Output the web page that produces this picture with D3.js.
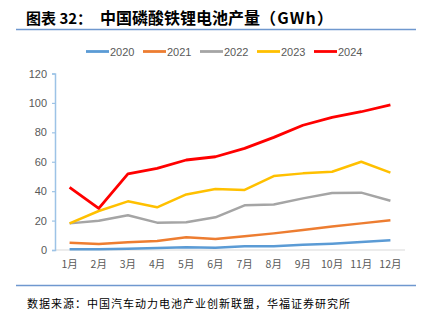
<!DOCTYPE html>
<html>
<head>
<meta charset="utf-8">
<script src="https://cdn.jsdelivr.net/npm/d3@7"></script>
<style>
  html, body { margin: 0; padding: 0; background: #fff; }
  svg { display: block; }
</style>
</head>
<body>
<svg width="422" height="323"></svg>
<script>
// monthly output, GWh
const months = ["1月", "2月", "3月", "4月", "5月", "6月", "7月", "8月", "9月", "10月", "11月", "12月"];
const years = ["2020", "2021", "2022", "2023", "2024"];
const v2020 = [0.5, 0.5, 0.9, 1.4, 1.8, 1.6, 2.5, 2.5, 3.6, 4.3, 5.4, 6.6];
const v2021 = [5.0, 4.1, 5.2, 6.1, 8.6, 7.5, 9.3, 11.3, 13.6, 15.9, 18.1, 20.2];
const v2022 = [18.1, 19.9, 23.6, 18.6, 18.8, 22.2, 30.4, 31.0, 35.1, 38.7, 39.0, 33.5];
const v2023 = [18.1, 26.5, 33.1, 29.0, 37.8, 41.5, 40.8, 50.3, 52.1, 53.2, 60.0, 52.6];
const v2024 = [42.6, 28.3, 51.7, 55.5, 61.2, 63.4, 69.1, 76.6, 84.8, 90.2, 94.0, 98.6];
const yTicks = [0, 20, 40, 60, 80, 100, 120];

const seriesValues = [v2020, v2021, v2022, v2023, v2024];
const colors = ["#5B9BD5", "#ED7D31", "#A5A5A5", "#FFC000", "#FF0000"];

const svg = d3.select("svg");
const cjk = "'Noto Sans CJK SC', sans-serif";
const latin = "'Liberation Sans', Arial, sans-serif";

// header
const title = svg.append("text")
    .attr("x", 26)
    .attr("y", 24)
    .style("font-family", cjk)
    .style("font-weight", "bold")
    .style("font-size", "15px")
    .style("fill", "#000");
title.append("tspan").text("图表 32：");
title.append("tspan")
    .attr("x", 100)
    .style("font-size", "16px")
    .text("中国磷酸铁锂电池产量");
title.append("tspan")
    .style("font-size", "16px")
    .style("letter-spacing", "1.2px")
    .text("（GWh）");

svg.append("line")
    .attr("x1", 16).attr("x2", 416)
    .attr("y1", 29.5).attr("y2", 29.5)
    .attr("stroke", "#6F98CF")
    .attr("stroke-width", 1.5);

const x = d3.scaleBand()
    .domain(months)
    .range([55, 405]);

const y = d3.scaleLinear()
    .domain([0, 120])
    .range([250, 73.5]);

// x axis baseline
svg.append("line")
    .attr("x1", 55).attr("x2", 405)
    .attr("y1", y(0)).attr("y2", y(0))
    .attr("stroke", "#D9D9D9")
    .attr("stroke-width", 1);

// y axis
const yAxis = svg.append("g")
    .attr("transform", "translate(55,0)")
    .call(d3.axisLeft(y).tickValues(yTicks).tickSize(3).tickPadding(5));
yAxis.select(".domain").attr("stroke", "#9DC3E6").attr("stroke-width", 1.5);
yAxis.selectAll(".tick line").attr("stroke", "#9DC3E6").attr("stroke-width", 1.2);
yAxis.selectAll(".tick text")
    .style("font-family", latin)
    .style("font-size", "11px")
    .style("fill", "#595959");

// month labels
svg.append("g")
    .selectAll("text")
    .data(months)
    .enter().append("text")
    .attr("x", d => x(d) + x.bandwidth() / 2)
    .attr("y", 268)
    .attr("text-anchor", "middle")
    .style("font-family", cjk)
    .style("font-size", "10.5px")
    .style("fill", "#595959")
    .text(d => d);

const line = d3.line()
    .x((d, i) => x(months[i]) + x.bandwidth() / 2)
    .y(d => y(d));

svg.append("g")
    .selectAll("path")
    .data(seriesValues)
    .enter().append("path")
    .attr("d", d => line(d))
    .attr("fill", "none")
    .attr("stroke", (d, i) => colors[i])
    .attr("stroke-width", (d, i) => i === 4 ? 2.8 : 2.5)
    .attr("stroke-linejoin", "round");

// legend
const legend = svg.append("g")
    .selectAll("g")
    .data(years)
    .enter().append("g")
    .attr("transform", (d, i) => `translate(${86 + i * 57},51.5)`);

legend.append("line")
    .attr("x1", 0).attr("x2", 23)
    .attr("stroke", (d, i) => colors[i])
    .attr("stroke-width", 2.8);

legend.append("text")
    .attr("x", 24)
    .attr("y", 4)
    .style("font-family", latin)
    .style("font-size", "11px")
    .style("fill", "#595959")
    .text(d => d);

// footer
svg.append("line")
    .attr("x1", 16).attr("x2", 416)
    .attr("y1", 285.5).attr("y2", 285.5)
    .attr("stroke", "#6F98CF")
    .attr("stroke-width", 1.5);

svg.append("text")
    .attr("x", 27)
    .attr("y", 308)
    .style("font-family", cjk)
    .style("font-size", "11px")
    .style("letter-spacing", "1px")
    .style("fill", "#000")
    .text("数据来源：中国汽车动力电池产业创新联盟，华福证券研究所");

// next heading, running off the bottom edge
svg.append("text")
    .attr("x", 26)
    .attr("y", 336)
    .style("font-family", cjk)
    .style("font-weight", "bold")
    .style("font-size", "15px")
    .style("fill", "#000")
    .text("图表 33：中国磷酸铁锂电池装机量");
</script>
</body>
</html>
